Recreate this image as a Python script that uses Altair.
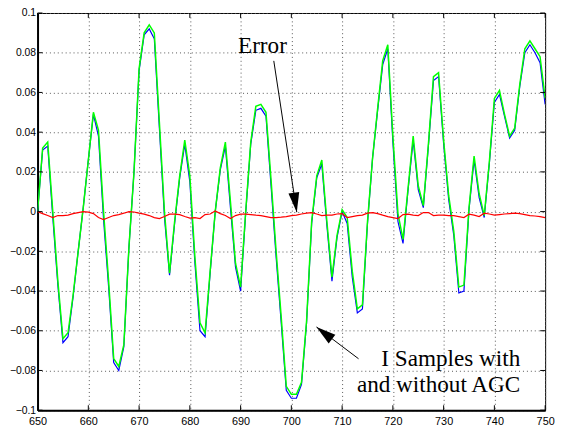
import altair as alt
import pandas as pd

samples = list(range(650, 751))

# I samples with AGC (green)
i_green = [
    0.000, 0.032, 0.035, 0.000, -0.035, -0.064, -0.061, -0.042, -0.020, 0.002,
    0.026, 0.050, 0.041, 0.000, -0.035, -0.074, -0.078, -0.067, -0.018, 0.020,
    0.072, 0.090, 0.094, 0.090, 0.045, 0.000, -0.031, -0.005, 0.018, 0.036,
    0.018, -0.023, -0.056, -0.061, -0.030, 0.000, 0.022, 0.035, 0.005, -0.026,
    -0.038, 0.000, 0.035, 0.053, 0.054, 0.050, 0.016, -0.020, -0.053, -0.088,
    -0.092, -0.092, -0.086, -0.055, -0.005, 0.018, 0.026, -0.005, -0.033, -0.012,
    0.001, -0.003, -0.030, -0.049, -0.047, -0.005, 0.027, 0.052, 0.076, 0.084,
    0.038, -0.001, -0.014, 0.012, 0.038, 0.013, 0.003, 0.034, 0.068, 0.070,
    0.036, 0.008, -0.010, -0.038, -0.037, 0.002, 0.028, 0.009, -0.002, 0.025,
    0.057, 0.061, 0.049, 0.038, 0.042, 0.064, 0.082, 0.086, 0.082, 0.078,
    0.057,
]

# I samples without AGC (blue)
i_blue = [
    0.000, 0.031, 0.033, -0.003, -0.037, -0.066, -0.063, -0.043, -0.020, 0.002,
    0.026, 0.049, 0.038, -0.004, -0.038, -0.076, -0.080, -0.068, -0.018, 0.020,
    0.071, 0.089, 0.092, 0.087, 0.042, -0.003, -0.032, -0.006, 0.017, 0.034,
    0.015, -0.026, -0.060, -0.063, -0.031, 0.000, 0.021, 0.033, 0.002, -0.028,
    -0.040, -0.001, 0.034, 0.051, 0.052, 0.048, 0.013, -0.023, -0.056, -0.090,
    -0.094, -0.094, -0.087, -0.056, -0.006, 0.017, 0.024, -0.007, -0.035, -0.013,
    0.000, -0.006, -0.033, -0.051, -0.049, -0.006, 0.027, 0.051, 0.074, 0.082,
    0.035, -0.005, -0.016, 0.011, 0.036, 0.011, 0.002, 0.033, 0.066, 0.068,
    0.034, 0.006, -0.012, -0.041, -0.040, 0.001, 0.026, 0.007, -0.003, 0.024,
    0.055, 0.059, 0.048, 0.037, 0.041, 0.063, 0.080, 0.084, 0.080, 0.075,
    0.054,
]

# Error (red)
err = [
    0.000, -0.001, -0.002, -0.003, -0.002, -0.002, -0.0018, -0.001, -0.0005, 0.000,
    -0.0003, -0.001, -0.003, -0.004, -0.003, -0.002, -0.0015, -0.0008, 0.000, -0.0002,
    -0.0008, -0.0013, -0.002, -0.003, -0.0035, -0.0025, -0.0013, -0.0013, -0.0015, -0.0025,
    -0.0033, -0.003, -0.0035, -0.0015, -0.0012, 0.0003, -0.001, -0.002, -0.0035, -0.002,
    -0.0013, -0.0013, -0.0015, -0.0018, -0.002, -0.0025, -0.003, -0.003, -0.0028, -0.0025,
    -0.002, -0.0018, -0.0012, -0.0008, -0.0005, -0.0012, -0.002, -0.0018, -0.0018, -0.0012,
    -0.001, -0.003, -0.0025, -0.002, -0.0018, -0.0008, -0.0005, -0.001, -0.0018, -0.0025,
    -0.003, -0.0035, -0.0015, -0.0013, -0.0018, -0.002, -0.0005, -0.0005, -0.002, -0.0018,
    -0.0018, -0.002, -0.002, -0.0025, -0.003, -0.0013, -0.0018, -0.0025, -0.0008, -0.0012,
    -0.0018, -0.0015, -0.0012, -0.001, -0.0008, -0.001, -0.0015, -0.002, -0.0022, -0.0025,
    -0.003,
]

x_ticks = list(range(650, 751, 10))
y_ticks = [-0.1, -0.08, -0.06, -0.04, -0.02, 0.0, 0.02, 0.04, 0.06, 0.08, 0.1]

# annotations
labels_text = ["Error", "I Samples with", "and without AGC"]
labels_x = [694.3, 745.1, 745.1]
labels_y = [0.0797, -0.0779, -0.0907]
labels_align = ["center", "right", "right"]

arrow_x = [696.54, 713.24]
arrow_y = [0.0759, -0.0741]
arrow_x2 = [701.07, 704.95]
arrow_y2 = [-0.0003, -0.0581]
arrow_angle = [171.4, 308.0]

W, H = 515, 403

df = pd.DataFrame({"n": samples, "green": i_green, "blue": i_blue, "err": err})
xs = alt.Scale(domain=[650, 750], nice=False, zero=False)
ys = alt.Scale(domain=[-0.1, 0.1], nice=False, zero=False)

x_axis = alt.Axis(values=x_ticks, format="d", title=None, grid=True,
                  gridDash=[1, 3], gridColor="#555555", gridWidth=1,
                  tickSize=0, labelPadding=6, labelFlush=False, labelOverlap=False,
                  labelFont="Liberation Sans", labelFontSize=11, labelColor="black",
                  domainColor="black", domainWidth=2)
y_axis = alt.Axis(values=y_ticks, title=None, grid=True,
                  labelExpr="replace(format(datum.value, '~g'), '-', '\u2212')",
                  gridDash=[1, 3], gridColor="#555555", gridWidth=1,
                  tickSize=0, labelPadding=2, labelFlush=False, labelOverlap=False,
                  labelFont="Liberation Sans", labelFontSize=10.5, labelColor="black",
                  domainColor="black", domainWidth=2)

base = alt.Chart(df)
blue_line = base.mark_line(color="#0000ff", strokeWidth=1.2, clip=True).encode(
    x=alt.X("n:Q", scale=xs, axis=x_axis),
    y=alt.Y("blue:Q", scale=ys, axis=y_axis),
)
green_line = base.mark_line(color="#00ff00", strokeWidth=1.5, clip=True).encode(
    x=alt.X("n:Q", scale=xs), y=alt.Y("green:Q", scale=ys)
)
red_line = base.mark_line(color="#ff0000", strokeWidth=1.2, clip=True).encode(
    x=alt.X("n:Q", scale=xs), y=alt.Y("err:Q", scale=ys)
)

# inner tick marks on all four sides
xt = pd.DataFrame({"t": x_ticks})
yt = pd.DataFrame({"t": y_ticks})
tick_top = alt.Chart(xt).mark_rule(color="black", strokeWidth=1).encode(
    x=alt.X("t:Q", scale=xs), y=alt.value(0), y2=alt.value(5))
tick_bot = alt.Chart(xt).mark_rule(color="black", strokeWidth=1).encode(
    x=alt.X("t:Q", scale=xs), y=alt.value(H - 5), y2=alt.value(H))
tick_left = alt.Chart(yt).mark_rule(color="black", strokeWidth=1).encode(
    y=alt.Y("t:Q", scale=ys), x=alt.value(0), x2=alt.value(5))
tick_right = alt.Chart(yt).mark_rule(color="black", strokeWidth=1).encode(
    y=alt.Y("t:Q", scale=ys), x=alt.value(W - 5), x2=alt.value(W))

ann = pd.DataFrame({"text": labels_text, "x": labels_x, "y": labels_y, "align": labels_align})
text_c = alt.Chart(ann[ann["align"] == "center"]).mark_text(
    font="Liberation Serif", fontSize=23.5, color="black", align="center", baseline="alphabetic"
).encode(x=alt.X("x:Q", scale=xs), y=alt.Y("y:Q", scale=ys), text="text:N")
text_r = alt.Chart(ann[ann["align"] == "right"]).mark_text(
    font="Liberation Serif", fontSize=23.5, color="black", align="right", baseline="alphabetic"
).encode(x=alt.X("x:Q", scale=xs), y=alt.Y("y:Q", scale=ys), text="text:N")

arr = pd.DataFrame({"x": arrow_x, "y": arrow_y, "x2": arrow_x2, "y2": arrow_y2, "angle": arrow_angle})
arrow_lines = alt.Chart(arr).mark_rule(color="black", strokeWidth=1).encode(
    x=alt.X("x:Q", scale=xs), y=alt.Y("y:Q", scale=ys), x2="x2:Q", y2="y2:Q")
arrow_heads = alt.Chart(arr).mark_point(
    shape="M0,0L0.55,2L-0.55,2Z", size=400, filled=True, color="black", opacity=1
).encode(x=alt.X("x2:Q", scale=xs), y=alt.Y("y2:Q", scale=ys), angle=alt.Angle("angle:Q", scale=None))

chart = alt.layer(
    blue_line, green_line, red_line,
    tick_top, tick_bot, tick_left, tick_right,
    arrow_lines, arrow_heads, text_c, text_r,
).properties(
    width=W, height=H,
    autosize=alt.AutoSizeParams(type="none"),
    padding={"left": 30, "top": 2, "right": 10, "bottom": 16},
    background="white",
).configure_view(stroke="black", strokeWidth=1)

chart.save("out.html", embed_options={"renderer": "svg", "actions": False})
